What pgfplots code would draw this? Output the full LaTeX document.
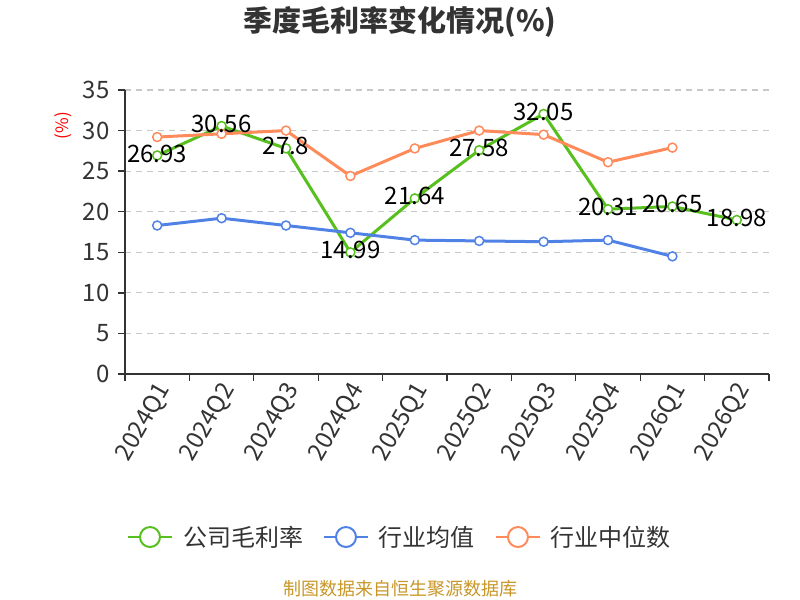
\documentclass[border=0pt]{standalone}
\usepackage{pgfplots}
\pgfplotsset{compat=1.18}
\usepackage{fontspec}
\setmainfont{Noto Sans CJK SC}
\definecolor{cgreen}{RGB}{88,192,30}
\definecolor{cblue}{RGB}{80,130,230}
\definecolor{corange}{RGB}{255,138,90}
\definecolor{cgold}{RGB}{200,150,40}
\definecolor{ctext}{RGB}{51,51,51}
\definecolor{cgrid}{RGB}{200,200,200}
\pgfplotstableread{
x y label
0 26.93 26.93
1 30.56 30.56
2 27.8 27.8
3 14.99 14.99
4 21.64 21.64
5 27.58 27.58
6 32.05 32.05
7 20.31 20.31
8 20.65 20.65
9 18.98 18.98
}\company
\pgfplotstableread{
x y
0 18.3
1 19.2
2 18.3
3 17.4
4 16.5
5 16.4
6 16.3
7 16.5
8 14.5
}\indmean
\pgfplotstableread{
x y
0 29.2
1 29.6
2 30.0
3 24.4
4 27.8
5 30.0
6 29.5
7 26.1
8 27.9
}\indmedian
\begin{document}
\begin{tikzpicture}
\useasboundingbox (0,0) rectangle (800bp,600bp);
\begin{axis}[
  at={(125bp,226bp)}, anchor=south west,
  width=644bp, height=284bp, scale only axis,
  xmin=-0.5, xmax=9.5, ymin=0, ymax=35,
  axis lines=left,
  axis line style={-, draw=ctext, line width=1.3bp},
  xtick={0,...,9},
  xticklabels={2024Q1,2024Q2,2024Q3,2024Q4,2025Q1,2025Q2,2025Q3,2025Q4,2026Q1,2026Q2},
  minor xtick={-0.5,0.5,...,9.5},
  major x tick style={draw=none},
  minor x tick style={draw=ctext, line width=1.3bp},
  minor tick length=7bp,
  major tick length=7bp,
  ytick={0,5,...,35},
  ytick style={draw=ctext, line width=1.3bp},
  tick align=outside,
  ymajorgrids,
  grid style={draw=cgrid, line width=1.2bp, dash pattern=on 6bp off 5bp},
  /pgf/number format/assume math mode=true,
  yticklabel style={font=\fontsize{24bp}{26bp}\selectfont, text=ctext, xshift=-5bp},
  xticklabel style={font=\fontsize{24bp}{26bp}\selectfont, text=ctext, rotate=60, anchor=east, yshift=-9bp, xshift=3bp},
  legend columns=3,
  legend style={at={(0.427,-0.574)}, anchor=center, draw=none, fill=none,
    font=\fontsize{24bp}{26bp}\selectfont, text=ctext,
    /tikz/every odd column/.append style={column sep=8bp},
    /tikz/every even column/.append style={column sep=18bp}},
  legend image code/.code={
    \draw[#1, line width=2bp] (0bp,0bp) -- (44bp,0bp);
    \draw[#1, line width=2bp, fill=white] (22bp,0bp) circle (10bp);
  },
  clip=false,
]
\addplot[cgreen, line width=3bp, mark=*, mark size=4.5bp, mark options={fill=white, draw=cgreen, line width=1.5bp}] table[x=x,y=y]{\company};
\addlegendentry{公司毛利率}
\addplot[cblue, line width=3bp, mark=*, mark size=4.5bp, mark options={fill=white, draw=cblue, line width=1.5bp}] table[x=x,y=y]{\indmean};
\addlegendentry{行业均值}
\addplot[corange, line width=3bp, mark=*, mark size=4.5bp, mark options={fill=white, draw=corange, line width=1.5bp}] table[x=x,y=y]{\indmedian};
\addlegendentry{行业中位数}
\addplot[draw=none, mark=none, forget plot,
  nodes near coords, point meta=explicit symbolic,
  every node near coord/.append style={anchor=center, yshift=2bp, text=black, font=\fontsize{24bp}{26bp}\selectfont, inner sep=0pt}]
  table[x=x,y=y,meta=label]{\company};
\end{axis}
\node[font=\fontsize{29bp}{31bp}\selectfont\bfseries, text=ctext] at (400bp,578bp) {季度毛利率变化情况(\%)};
\node[rotate=90, text=red, font=\fontsize{17bp}{19bp}\selectfont] at (63bp,474.5bp) {(\%)};
\node[font=\fontsize{18bp}{20bp}\selectfont, text=cgold] at (400bp,11bp) {制图数据来自恒生聚源数据库};
\end{tikzpicture}
\end{document}
